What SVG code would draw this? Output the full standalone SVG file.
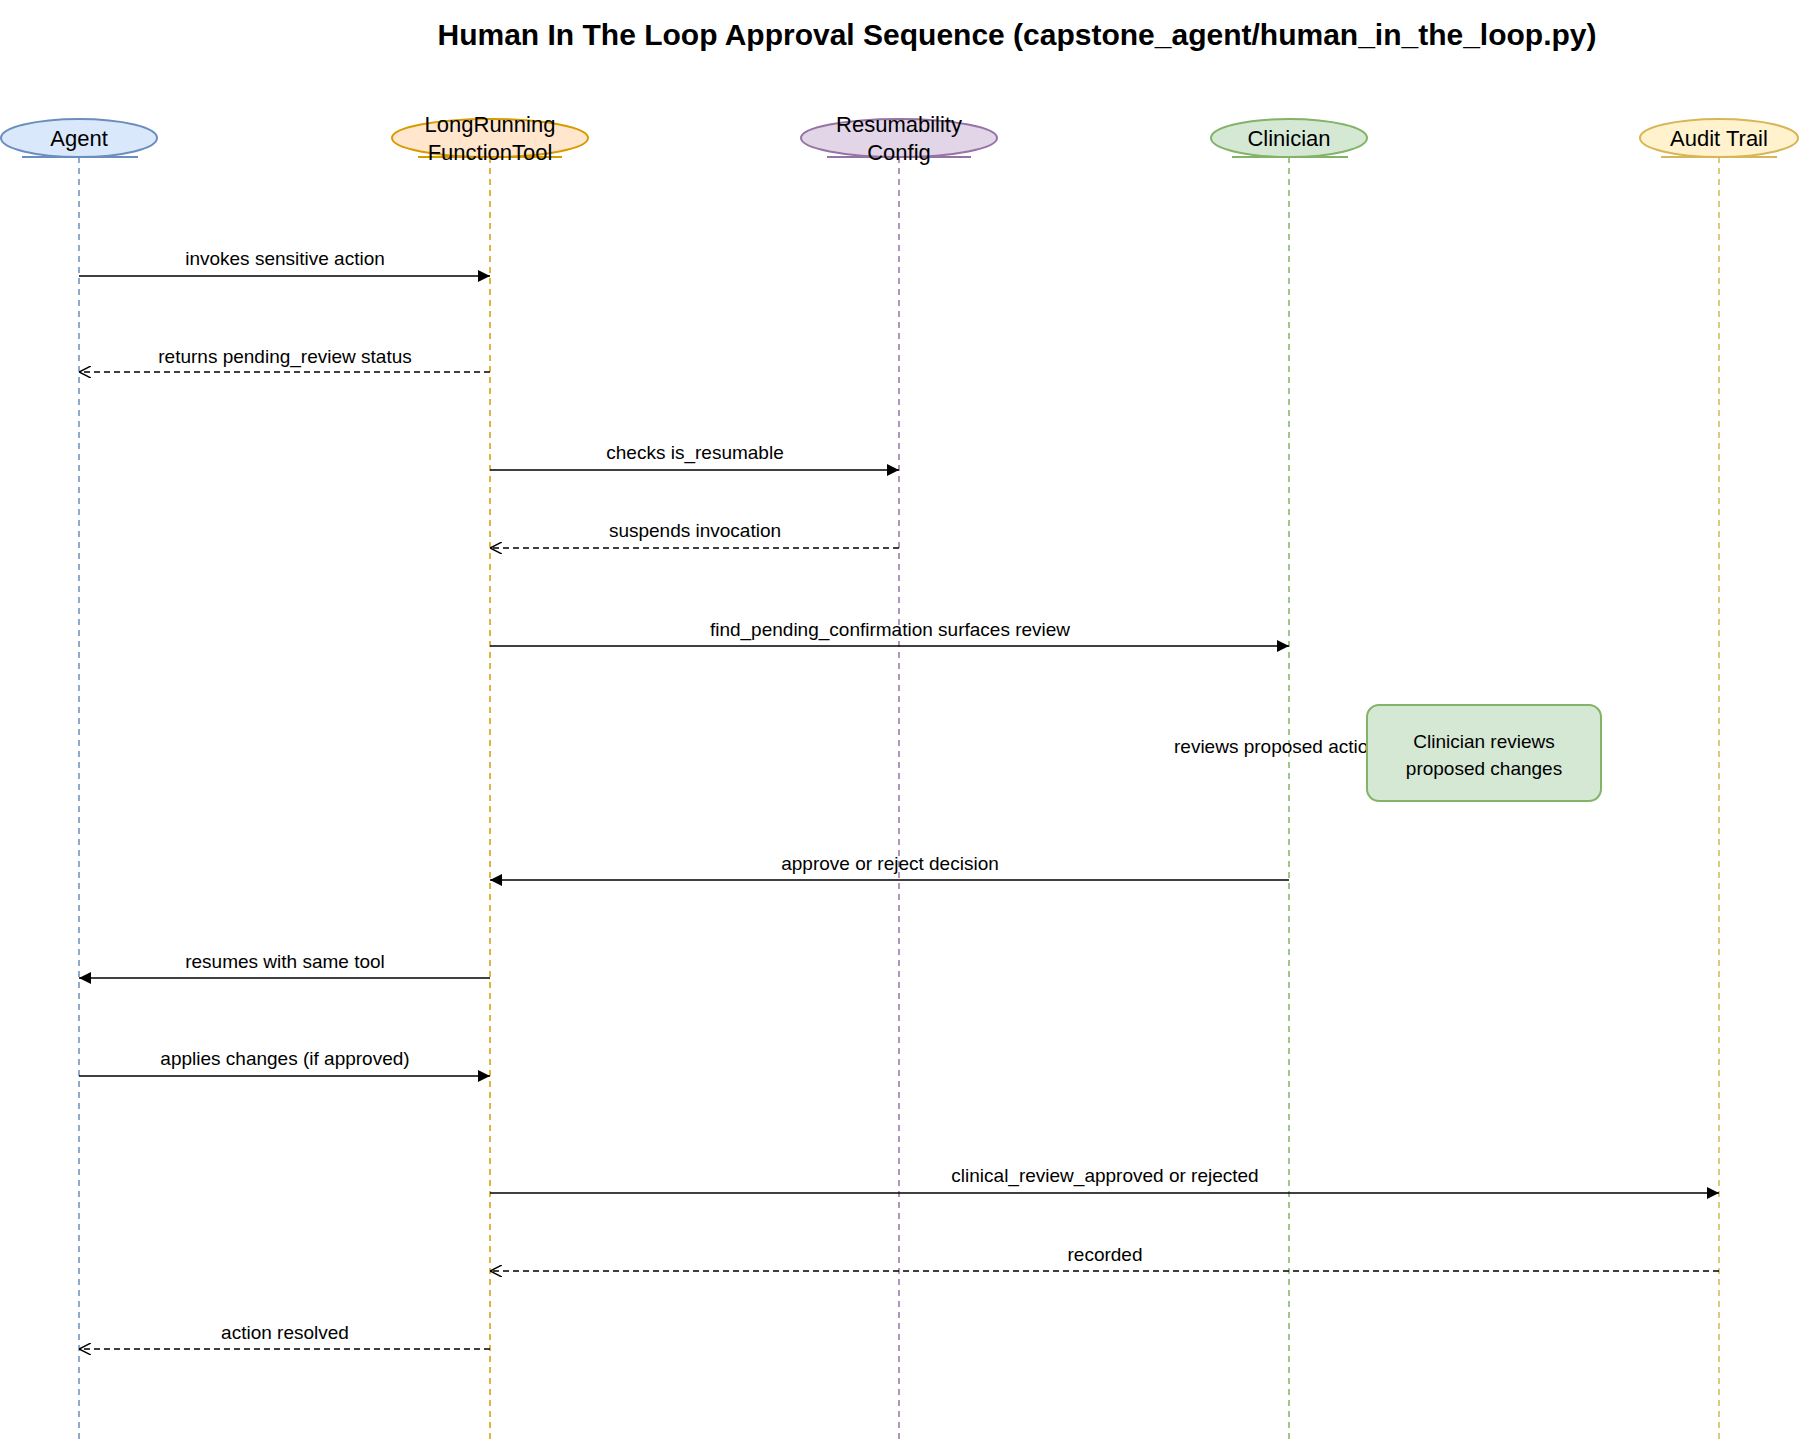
<svg xmlns="http://www.w3.org/2000/svg" width="1800" height="1450" viewBox="0 0 1800 1450">
<defs>
<marker id="fill" viewBox="0 0 12 12" refX="12" refY="6" markerWidth="12" markerHeight="12" markerUnits="userSpaceOnUse" orient="auto"><path d="M0,0 L12,6 L0,12 Z" fill="#000"/></marker>
<marker id="open" viewBox="0 0 12 12" refX="12" refY="6" markerWidth="12" markerHeight="12" markerUnits="userSpaceOnUse" orient="auto"><path d="M0,0 L12,6 L0,12" fill="none" stroke="#000" stroke-width="1.5"/></marker>
</defs>
<style>
text{font-family:"Liberation Sans",Arial,sans-serif;fill:#000}
.t{font-size:30px;font-weight:bold}
.h{font-size:22px}
.m{font-size:19px}
.life{stroke-width:1.5;stroke-dasharray:6 5;fill:none}
.msg{stroke:#000;stroke-width:1.6;fill:none}
.ret{stroke-dasharray:6 4;marker-end:url(#open)}
.call{marker-end:url(#fill)}
</style>
<rect width="1800" height="1450" fill="#fff"/>
<text class="t" x="1017" y="45" text-anchor="middle">Human In The Loop Approval Sequence (capstone_agent/human_in_the_loop.py)</text>
<g id="agent">
<line class="life" x1="79" y1="157" x2="79" y2="1441" stroke="#6c8ebf"/>
<ellipse cx="79" cy="138" rx="78" ry="19" fill="#dae8fc" stroke="#6c8ebf" stroke-width="2"/>
<line x1="22" y1="157" x2="138" y2="157" stroke="#6c8ebf" stroke-width="2"/>
<text class="h" x="79" y="146" text-anchor="middle">Agent</text>
</g>
<g id="tool">
<line class="life" x1="490" y1="157" x2="490" y2="1441" stroke="#d79b00"/>
<ellipse cx="490" cy="138" rx="98" ry="19" fill="#ffe6cc" stroke="#d79b00" stroke-width="2"/>
<line x1="418" y1="157" x2="562" y2="157" stroke="#d79b00" stroke-width="2"/>
<text class="h" x="490" y="132" text-anchor="middle">LongRunning</text>
<text class="h" x="490" y="160" text-anchor="middle">FunctionTool</text>
</g>
<g id="resume">
<line class="life" x1="899" y1="157" x2="899" y2="1441" stroke="#9673a6"/>
<ellipse cx="899" cy="138" rx="98" ry="19" fill="#e1d5e7" stroke="#9673a6" stroke-width="2"/>
<line x1="827" y1="157" x2="971" y2="157" stroke="#9673a6" stroke-width="2"/>
<text class="h" x="899" y="132" text-anchor="middle">Resumability</text>
<text class="h" x="899" y="160" text-anchor="middle">Config</text>
</g>
<g id="clinician">
<line class="life" x1="1289" y1="157" x2="1289" y2="1441" stroke="#82b366"/>
<ellipse cx="1289" cy="138" rx="78" ry="19" fill="#d5e8d4" stroke="#82b366" stroke-width="2"/>
<line x1="1232" y1="157" x2="1348" y2="157" stroke="#82b366" stroke-width="2"/>
<text class="h" x="1289" y="146" text-anchor="middle">Clinician</text>
</g>
<g id="audit">
<line class="life" x1="1719" y1="157" x2="1719" y2="1441" stroke="#d6b656"/>
<ellipse cx="1719" cy="138" rx="79" ry="19" fill="#fff2cc" stroke="#d6b656" stroke-width="2"/>
<line x1="1661" y1="157" x2="1777" y2="157" stroke="#d6b656" stroke-width="2"/>
<text class="h" x="1719" y="146" text-anchor="middle">Audit Trail</text>
</g>
<g id="connectors">
<line class="msg call" x1="79" y1="276" x2="490" y2="276"/>
<text class="m" x="285" y="265" text-anchor="middle">invokes sensitive action</text>
<line class="msg ret" x1="490" y1="372" x2="79" y2="372"/>
<text class="m" x="285" y="363" text-anchor="middle">returns pending_review status</text>
<line class="msg call" x1="490" y1="470" x2="899" y2="470"/>
<text class="m" x="695" y="459" text-anchor="middle">checks is_resumable</text>
<line class="msg ret" x1="899" y1="548" x2="490" y2="548"/>
<text class="m" x="695" y="537" text-anchor="middle">suspends invocation</text>
<line class="msg call" x1="490" y1="646" x2="1289" y2="646"/>
<text class="m" x="890" y="636" text-anchor="middle">find_pending_confirmation surfaces review</text>
<text class="m" x="1174" y="753">reviews proposed action</text>
<line class="msg call" x1="1289" y1="880" x2="490" y2="880"/>
<text class="m" x="890" y="870" text-anchor="middle">approve or reject decision</text>
<line class="msg call" x1="490" y1="978" x2="79" y2="978"/>
<text class="m" x="285" y="968" text-anchor="middle">resumes with same tool</text>
<line class="msg call" x1="79" y1="1076" x2="490" y2="1076"/>
<text class="m" x="285" y="1065" text-anchor="middle">applies changes (if approved)</text>
<line class="msg call" x1="490" y1="1193" x2="1719" y2="1193"/>
<text class="m" x="1105" y="1182" text-anchor="middle">clinical_review_approved or rejected</text>
<line class="msg ret" x1="1719" y1="1271" x2="490" y2="1271"/>
<text class="m" x="1105" y="1261" text-anchor="middle">recorded</text>
<line class="msg ret" x1="490" y1="1349" x2="79" y2="1349"/>
<text class="m" x="285" y="1339" text-anchor="middle">action resolved</text>
</g>
<g id="note">
<rect x="1367" y="705" width="234" height="96" rx="12" fill="#d5e8d4" stroke="#82b366" stroke-width="2"/>
<text class="m" x="1484" y="748" text-anchor="middle">Clinician reviews</text>
<text class="m" x="1484" y="775" text-anchor="middle">proposed changes</text>
</g>
</svg>
